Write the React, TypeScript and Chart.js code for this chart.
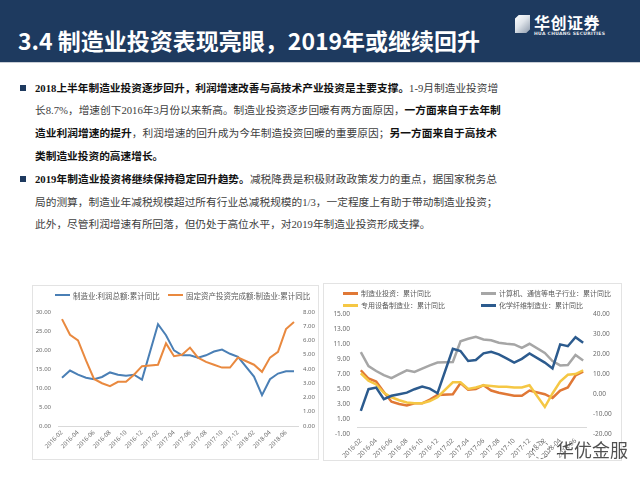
import React, { useEffect, useRef } from "react";
import { Chart, registerables } from "chart.js";

Chart.register(...registerables);

// ---------- data ----------
const months = [
  "2016-02", "2016-03", "2016-04", "2016-05", "2016-06", "2016-07", "2016-08", "2016-09", "2016-10", "2016-11", "2016-12",
  "2017-01", "2017-02", "2017-03", "2017-04", "2017-05", "2017-06", "2017-07", "2017-08", "2017-09", "2017-10", "2017-11", "2017-12",
  "2018-01", "2018-02", "2018-03", "2018-04", "2018-05", "2018-06", "2018-07",
];

// 制造业:利润总额:累计同比 (left axis, chart 1)
const mfgProfitYoY = [
  12.7, 14.6, 13.5, 12.7, 12.3, 12.9, 14.1, 13.5, 13.2, 13.5, 12.2,
  null, 26.8, 23.9, 19.9, 18.6, 18.6, 18.0, 18.6, 19.6, 20.1, 19.0, 18.2,
  null, 13.0, 8.1, 12.3, 13.8, 14.4, 14.4,
];

// 固定资产投资完成额:制造业:累计同比 (right axis chart 1, left axis chart 2)
const mfgInvestYoY = [
  7.5, 6.4, 6.0, 4.6, 3.3, 3.0, 2.8, 3.1, 3.1, 3.6, 4.2,
  null, 4.3, 5.8, 4.9, 5.0, 5.5, 4.8, 4.5, 4.3, 4.1, 4.1, 4.8,
  null, 4.3, 3.8, 4.8, 5.2, 6.8, 7.3,
];

// 专用设备制造业：累计同比 (left axis chart 2)
const specialEquipYoY = [
  7.1, 6.1, 5.6, 4.5, 3.9, 3.5, 3.2, 3.1, 3.1, 3.4, 3.9,
  null, 5.9, 5.9, 5.0, 5.2, 5.5, 5.4, 5.3, 5.3, 5.2, 5.2, 5.5,
  null, 2.6, 4.4, 6.0, 6.9, 7.0, 7.5,
];

// 计算机、通信等电子行业：累计同比 (right axis chart 2)
const electronicsYoY = [
  20.9, 14.0, 11.5, 9.4, 7.9, 9.9, 11.8, 11.0, 12.7, 14.3, 15.7,
  null, 16.0, 26.4, 27.6, 28.6, 27.3, 26.9, 25.6, 25.1, 24.8, 23.1, 25.1,
  null, 20.5, 16.5, 14.3, 14.5, 19.5, 16.8,
];

// 化学纤维制造业：累计同比 (right axis chart 2)
const chemFiberYoY = [
  -8.4, 2.4, 3.2, -2.6, -0.9, -0.1, 0.7, 2.4, 3.7, 2.7, 0.4,
  null, 22.6, 21.5, 16.5, 17.0, 20.3, 21.1, 19.8, 17.8, 15.7, 17.6, 20.3,
  null, 15.7, 12.8, 24.8, 23.9, 28.4, 25.6,
];

const chart1Legend = ["制造业:利润总额:累计同比", "固定资产投资完成额:制造业:累计同比"];
const chart2Legend = [
  "制造业投资：累计同比",
  "计算机、通信等电子行业：累计同比",
  "专用设备制造业：累计同比",
  "化学纤维制造业：累计同比",
];

// ---------- styles ----------
const C1_BLUE = "#4a7fb5";
const C1_ORANGE = "#e9893f";
const C2_ORANGE = "#e07836";
const C2_YELLOW = "#f5c744";
const C2_GRAY = "#a6a6a6";
const C2_BLUE = "#2c5b8e";
const TICK_COLOR = "#6b6b6b";
const AXIS_FONT = "'Noto Sans', 'DejaVu Sans', sans-serif";

const fmt2 = (v: any) => Number(v).toFixed(2);

function CanvasChart({ config, width, height }: { config: any; width: number; height: number }) {
  const ref = useRef<HTMLCanvasElement | null>(null);
  useEffect(() => {
    if (!ref.current) return;
    const chart = new Chart(ref.current, config);
    return () => chart.destroy();
  }, []);
  return <canvas ref={ref} width={width} height={height} style={{ width, height, display: "block" }} />;
}

const xAxis = (fontSize: number, height: number, border: boolean) => ({
  type: "category",
  offset: true,
  grid: { display: false, drawTicks: false },
  border: { display: border, color: "#d9d9d9", width: 1 },
  ticks: {
    autoSkip: false,
    maxRotation: 45,
    minRotation: 45,
    padding: 3,
    color: TICK_COLOR,
    font: { family: AXIS_FONT, size: fontSize },
    callback: (_v: any, i: number) => (i % 2 === 0 ? months[i] : ""),
  },
  afterFit: (s: any) => {
    s.height = height;
  },
});

const yAxis = (pos: string, min: number, max: number, step: number, fontSize: number, width: number, pad: number) => ({
  position: pos,
  min,
  max,
  grid: { display: false, drawTicks: false },
  border: { display: false },
  ticks: {
    stepSize: step,
    padding: pad,
    color: TICK_COLOR,
    font: { family: AXIS_FONT, size: fontSize },
    callback: fmt2,
  },
  afterFit: (s: any) => {
    s.width = width;
  },
});

const chart1Config = {
  type: "line",
  data: {
    labels: months,
    datasets: [
      { label: chart1Legend[1], data: mfgInvestYoY, yAxisID: "y1", borderColor: C1_ORANGE, borderWidth: 2 },
      { label: chart1Legend[0], data: mfgProfitYoY, yAxisID: "y", borderColor: C1_BLUE, borderWidth: 2 },
    ],
  },
  options: {
    animation: false,
    responsive: false,
    maintainAspectRatio: false,
    spanGaps: true,
    layout: { padding: { top: 27, left: 0, right: 0, bottom: 0 } },
    plugins: { legend: { display: false }, tooltip: { enabled: false } },
    elements: { point: { radius: 0 }, line: { tension: 0 } },
    scales: {
      x: xAxis(6, 34, true),
      y: yAxis("left", 0, 30, 5, 6, 26, 7),
      y1: yAxis("right", 0, 8, 1, 6, 21, 5),
    },
  },
};

const zeroLine = {
  id: "zeroLine",
  beforeDatasetsDraw(chart: any) {
    const { ctx, chartArea, scales } = chart;
    const y = Math.round(scales.y.getPixelForValue(0)) + 0.5;
    ctx.save();
    ctx.strokeStyle = "#d9d9d9";
    ctx.lineWidth = 1;
    ctx.beginPath();
    ctx.moveTo(chartArea.left, y);
    ctx.lineTo(chartArea.right, y);
    ctx.stroke();
    ctx.restore();
  },
};

const chart2Config = {
  type: "line",
  data: {
    labels: months,
    datasets: [
      { label: chart2Legend[3], data: chemFiberYoY, yAxisID: "y1", borderColor: C2_BLUE, borderWidth: 2.5 },
      { label: chart2Legend[2], data: specialEquipYoY, yAxisID: "y", borderColor: C2_YELLOW, borderWidth: 2.5 },
      { label: chart2Legend[0], data: mfgInvestYoY, yAxisID: "y", borderColor: C2_ORANGE, borderWidth: 2.5 },
      { label: chart2Legend[1], data: electronicsYoY, yAxisID: "y1", borderColor: C2_GRAY, borderWidth: 2.5 },
    ],
  },
  options: {
    animation: false,
    responsive: false,
    maintainAspectRatio: false,
    spanGaps: true,
    layout: { padding: { top: 31, left: 0, right: 0, bottom: 0 } },
    plugins: { legend: { display: false }, tooltip: { enabled: false } },
    elements: { point: { radius: 0 }, line: { tension: 0 } },
    scales: {
      x: xAxis(6.5, 27, false),
      y: yAxis("left", -1, 15, 2, 6.5, 34, 7),
      y1: yAxis("right", -20, 40, 10, 6.5, 35, 6),
    },
  },
  plugins: [zeroLine],
};

// ---------- page pieces ----------
const LegendItem = ({ color, text, x, y, size, thick }: any) => (
  <div
    style={{
      position: "absolute",
      left: x,
      top: y - 6,
      height: 12,
      display: "flex",
      alignItems: "center",
      whiteSpace: "nowrap",
      fontSize: size,
      color: "#595959",
      fontFamily: "'Noto Sans CJK SC', sans-serif",
    }}
  >
    <span style={{ display: "inline-block", width: 15, height: thick, background: color, marginRight: 3 }} />
    <span>{text}</span>
  </div>
);

const B = ({ children }: any) => <span style={{ fontWeight: 700, color: "#111" }}>{children}</span>;

const lineStyle = (justify: boolean): React.CSSProperties => ({
  height: 22.8,
  lineHeight: "22.8px",
  whiteSpace: "nowrap",
  textAlign: justify ? "justify" : "left",
  textAlignLast: justify ? "justify" : "left",
  overflow: "visible",
} as any);

export default function App() {
  return (
    <div
      style={{
        position: "absolute",
        left: 0,
        top: 0,
        width: 640,
        height: 480,
        background: "#ffffff",
        overflow: "hidden",
        fontFamily: "'Noto Sans CJK SC', sans-serif",
      }}
    >
      {/* banner */}
      <div style={{ position: "absolute", left: 0, top: 0, width: 640, height: 62, background: "#1e3a5f" }} />
      <div style={{ position: "absolute", left: 0, top: 62, width: 640, height: 1, background: "#c9ced6" }} />
      <div
        style={{
          position: "absolute",
          left: 18,
          top: 26,
          fontSize: 23,
          lineHeight: "28px",
          fontWeight: 700,
          color: "#ffffff",
          whiteSpace: "nowrap",
          fontFamily: "'Noto Sans CJK SC', sans-serif",
        }}
      >
        3.4 制造业投资表现亮眼，2019年或继续回升
      </div>
      {/* logo */}
      <div
        style={{
          position: "absolute",
          left: 515,
          top: 15,
          width: 15,
          height: 18,
          background: "linear-gradient(135deg, #ffffff 0%, #dfe4ea 45%, #8d9aab 100%)",
          clipPath: "polygon(25% 0, 100% 0, 100% 80%, 75% 100%, 0 100%, 0 20%)",
        }}
      />
      <div
        style={{
          position: "absolute",
          left: 534,
          top: 12,
          fontSize: 16,
          lineHeight: "20px",
          fontWeight: 700,
          color: "#ffffff",
          letterSpacing: 0.5,
          whiteSpace: "nowrap",
        }}
      >
        华创证券
      </div>
      <div
        style={{
          position: "absolute",
          left: 534,
          top: 31,
          fontSize: 4.5,
          lineHeight: "6px",
          color: "#e6e9ee",
          letterSpacing: 0.3,
          whiteSpace: "nowrap",
          fontFamily: "'DejaVu Sans', sans-serif",
          fontWeight: 700,
        }}
      >
        HUA CHUANG SECURITIES
      </div>

      {/* bullets */}
      <div style={{ position: "absolute", left: 20, top: 85, width: 6, height: 6, background: "#1e3a5f" }} />
      <div style={{ position: "absolute", left: 20, top: 176, width: 6, height: 6, background: "#1e3a5f" }} />

      <div
        style={{
          position: "absolute",
          left: 35,
          top: 76.6,
          width: 462,
          fontSize: 10.7,
          color: "#404040",
          fontFamily: "'Liberation Serif', 'Noto Sans CJK SC', serif",
        }}
      >
        <div style={lineStyle(true)}>
          <B>2018上半年制造业投资逐步回升，利润增速改善与高技术产业投资是主要支撑。</B>1-9月制造业投资增
        </div>
        <div style={lineStyle(true)}>
          长8.7%，增速创下2016年3月份以来新高。制造业投资逐步回暖有两方面原因，<B>一方面来自于去年制</B>
        </div>
        <div style={lineStyle(true)}>
          <B>造业利润增速的提升</B>，利润增速的回升成为今年制造投资回暖的重要原因；<B>另一方面来自于高技术</B>
        </div>
        <div style={lineStyle(false)}>
          <B>类制造业投资的高速增长。</B>
        </div>
        <div style={lineStyle(true)}>
          <B>2019年制造业投资将继续保持稳定回升趋势。</B>减税降费是积极财政政策发力的重点，据国家税务总
        </div>
        <div style={lineStyle(true)}>
          局的测算，制造业年减税规模超过所有行业总减税规模的1/3，一定程度上有助于带动制造业投资；
        </div>
        <div style={lineStyle(false)}>此外，尽管利润增速有所回落，但仍处于高位水平，对2019年制造业投资形成支撑。</div>
      </div>

      {/* chart 1 */}
      <div
        style={{
          position: "absolute",
          left: 32,
          top: 285,
          width: 287,
          height: 175,
          boxShadow: "inset 0 0 0 1px #e3e3e3",
        }}
      >
        <CanvasChart config={chart1Config} width={287} height={175} />
      </div>
      <LegendItem color={C1_BLUE} text={chart1Legend[0]} x={55} y={295} size={7.5} thick={2} />
      <LegendItem color={C1_ORANGE} text={chart1Legend[1]} x={168} y={295} size={7.5} thick={2} />

      {/* chart 2 */}
      <div
        style={{
          position: "absolute",
          left: 323,
          top: 283,
          width: 299,
          height: 178,
          boxShadow: "inset 0 0 0 1px #e3e3e3",
        }}
      >
        <CanvasChart config={chart2Config} width={299} height={178} />
      </div>
      <LegendItem color={C2_ORANGE} text={chart2Legend[0]} x={343} y={293} size={7} thick={3} />
      <LegendItem color={C2_GRAY} text={chart2Legend[1]} x={481} y={293} size={7} thick={3} />
      <LegendItem color={C2_YELLOW} text={chart2Legend[2]} x={343} y={305} size={7} thick={3} />
      <LegendItem color={C2_BLUE} text={chart2Legend[3]} x={481} y={305} size={7} thick={3} />

      {/* watermark */}
      <div
        style={{
          position: "absolute",
          left: 532,
          top: 441,
          width: 16,
          height: 16,
          borderRadius: "50%",
          border: "1px dashed rgba(60,60,60,0.7)",
        }}
      />
      <div
        style={{
          position: "absolute",
          left: 556,
          top: 438,
          fontSize: 18,
          lineHeight: "22px",
          color: "rgba(50,50,50,0.85)",
          whiteSpace: "nowrap",
        }}
      >
        华优金服
      </div>
    </div>
  );
}
